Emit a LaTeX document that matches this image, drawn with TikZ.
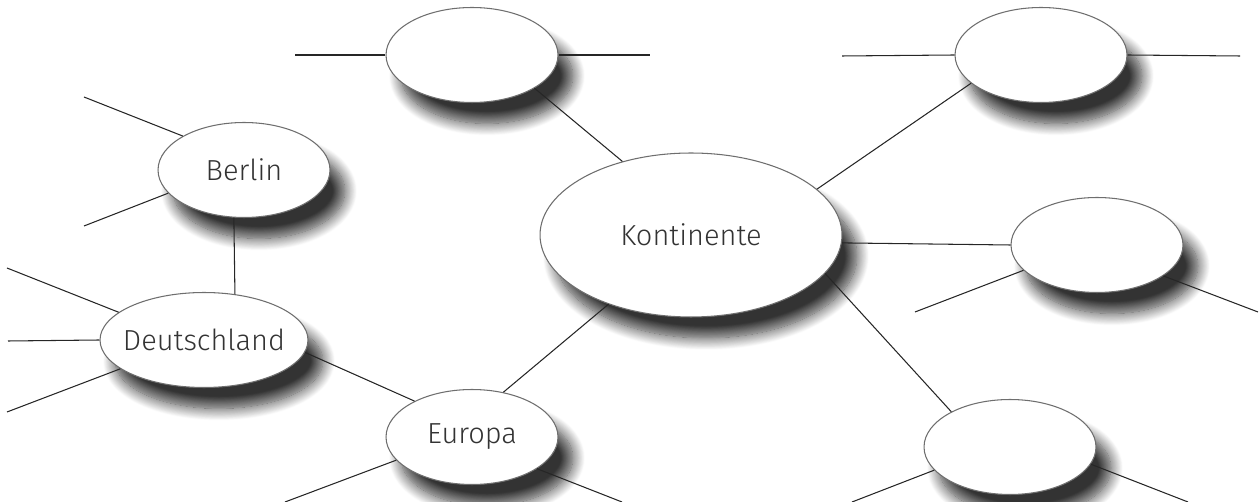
\documentclass[tikz,border=0pt]{standalone}
\usepackage{fontspec}
\setmainfont{Fira Sans Light}
\usetikzlibrary{shapes.geometric,shadows.blur}
\definecolor{rim}{HTML}{6E6E6E}
\definecolor{ink}{HTML}{333333}
\tikzset{
  bubble/.style={ellipse, draw=rim, line width=0.6pt, fill=white, inner sep=0pt,
    minimum width=3.44cm, minimum height=1.9cm, text=ink,
    font=\fontsize{16.5}{19}\selectfont,
    blur shadow={shadow xshift=0.3cm, shadow yshift=-0.42cm,
      shadow blur radius=0.24cm, shadow blur steps=16, shadow opacity=80}},
  spoke/.style={draw=black!85, line width=0.6pt}
}
\begin{document}
\begin{tikzpicture}[x=0.02cm, y=-0.02cm]
      \useasboundingbox (0,0) rectangle (1260,502);
      \draw
        (691,235) node[bubble, minimum width=6.04cm, minimum height=3.28cm] (kont){Kontinente}
        (472,55) node[bubble] (top){}
        (1041,55) node[bubble] (topright){}
        (1097,245) node[bubble] (right){}
        (1010,447) node[bubble] (botright){}
        (472,437) node[bubble] (europa){Europa}
        (204,340) node[bubble, minimum width=4.16cm] (deutsch){\makebox[2.8cm]{Deutschland}}
        (244,170) node[bubble] (berlin){Berlin};
      \coordinate (top-l) at (295,55);
      \coordinate (top-r) at (650,55);
      \coordinate (tr-l) at (842,56);
      \coordinate (tr-r) at (1240,56);
      \coordinate (r-l) at (915,312);
      \coordinate (r-r) at (1258,312);
      \coordinate (br-l) at (852,502);
      \coordinate (br-r) at (1188,502);
      \coordinate (eu-l) at (285,502);
      \coordinate (eu-r) at (622,502);
      \coordinate (de-a) at (7,268);
      \coordinate (de-b) at (8,341);
      \coordinate (de-c) at (7,412);
      \coordinate (be-a) at (84,97);
      \coordinate (be-b) at (84,226);
      \begin{scope}[spoke]
        \draw (top.-28) to (kont.133);
        \draw (topright.202) to (kont.20);
        \draw (kont.-3) to (right.west);
        \draw (kont.-16) to (botright.149);
        \draw (europa.55) to (kont.220);
        \draw (europa.148) to (deutsch.-7);
        \draw (deutsch.56) to (berlin.-102);
        \draw (top.west) to (top-l);
        \draw (top.east) to (top-r);
        \draw (topright.west) to (tr-l);
        \draw (topright.east) to (tr-r);
        \draw (right.199) to (r-l);
        \draw (right.-25) to (r-r);
        \draw (botright.197) to (br-l);
        \draw (botright.-12) to (br-r);
        \draw (europa.197) to (eu-l);
        \draw (europa.-26) to (eu-r);
        \draw (deutsch.162) to (de-a);
        \draw (deutsch.west) to (de-b);
        \draw (deutsch.199) to (de-c);
        \draw (berlin.151) to (be-a);
        \draw (berlin.197) to (be-b);
      \end{scope}
    \end{tikzpicture}
\end{document}
